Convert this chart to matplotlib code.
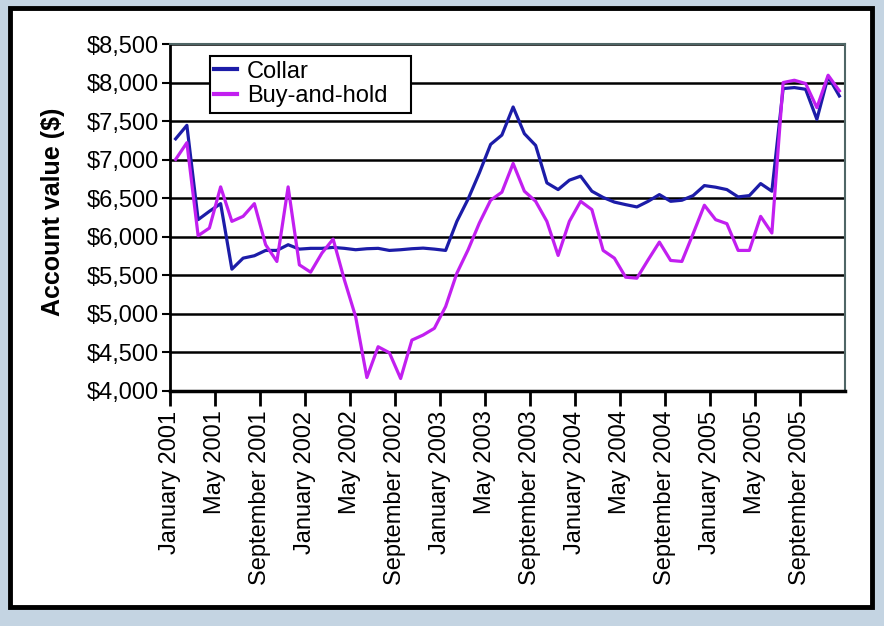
import matplotlib
matplotlib.use("Agg")
import matplotlib.pyplot as plt
from matplotlib.patches import Rectangle

plt.rcParams['font.family'] = ['Liberation Sans', 'DejaVu Sans']

# monthly account values, January 2001 - December 2005
months = ["January", "February", "March", "April", "May", "June", "July",
          "August", "September", "October", "November", "December"]
years = [2001, 2002, 2003, 2004, 2005]
labels = [f"{m} {y}" for y in years for m in months]

collar = [7270, 7445, 6222, 6330, 6430, 5580, 5723, 5754, 5823, 5823, 5897, 5840,
          5850, 5850, 5862, 5850, 5832, 5845, 5850, 5823, 5832, 5845, 5853, 5840,
          5823, 6200, 6490, 6829, 7198, 7319, 7683, 7337, 7185, 6699, 6612, 6734,
          6786, 6591, 6510, 6450, 6417, 6387, 6460, 6547, 6460, 6474, 6534, 6664,
          6643, 6612, 6517, 6534, 6690, 6591, 7922, 7935, 7913, 7523, 8078, 7826]
buy_hold = [7003, 7220, 6014, 6113, 6647, 6200, 6265, 6430, 5897, 5680, 6647, 5636,
            5541, 5788, 5970, 5441, 4964, 4175, 4574, 4496, 4162, 4660, 4726, 4813,
            5095, 5528, 5832, 6179, 6474, 6578, 6951, 6591, 6460, 6200, 5758, 6200,
            6460, 6352, 5823, 5723, 5476, 5463, 5701, 5931, 5693, 5680, 6040, 6409,
            6222, 6170, 5823, 5823, 6265, 6049, 8000, 8030, 7987, 7675, 8095, 7892]

y_ticks = list(range(4000, 8501, 500))

fig = plt.figure(figsize=(8.84, 6.26), dpi=100)
fig.patch.set_facecolor('#c4d4e2')
# white panel with black border
fig.patches.append(Rectangle((10 / 884, 1 - 607 / 626), 862 / 884, 599 / 626,
                             transform=fig.transFigure, facecolor='white',
                             edgecolor='black', linewidth=3.5, zorder=-5))

ax = fig.add_axes([170 / 884, 1 - 391 / 626, 675 / 884, 347 / 626])
ax.set_facecolor('white')

x = [i + 0.5 for i in range(len(labels))]
ax.plot(x, collar, color='#1c1ca8', lw=2.3, label='Collar', zorder=3)
ax.plot(x, buy_hold, color='#c21ff0', lw=2.3, label='Buy-and-hold', zorder=3)

ax.set_xlim(0, len(labels))
ax.set_ylim(4000, 8500)
ax.set_yticks(y_ticks)
ax.set_yticklabels([f"${v:,}" for v in y_ticks], fontsize=17)
ax.set_xticks(range(0, len(labels), 4))
ax.set_xticklabels(labels[::4], rotation=90, fontsize=17)
ax.tick_params(axis='y', length=6, width=1.5, pad=2)
ax.tick_params(axis='x', length=11, width=2, pad=3)

for v in y_ticks[1:]:
    ax.axhline(v, color='black', lw=1.8, zorder=1)

ax.spines['left'].set_linewidth(2)
ax.spines['bottom'].set_linewidth(2.5)
for s in ['top', 'right']:
    ax.spines[s].set_color('#4f6666')
    ax.spines[s].set_linewidth(1.5)

ax.set_ylabel('Account value ($)', fontsize=18, fontweight='bold')
ax.yaxis.set_label_coords(-0.1556, 0.515)

# legend box drawn by hand (wider than the default frame)
ax.add_patch(Rectangle((0.0593, 0.801), 0.2978, 0.164, transform=ax.transAxes,
                       facecolor='white', edgecolor='black', lw=1.5, zorder=4))
leg = ax.legend(loc='upper left', bbox_to_anchor=(0.058, 0.966), fontsize=17,
                frameon=False, handlelength=1.0, handletextpad=0.4,
                borderpad=0.2, labelspacing=0.1, borderaxespad=0)
leg.set_zorder(5)
for line in leg.get_lines():
    line.set_linewidth(3)

fig.savefig('out.png', dpi=100, facecolor=fig.get_facecolor())
